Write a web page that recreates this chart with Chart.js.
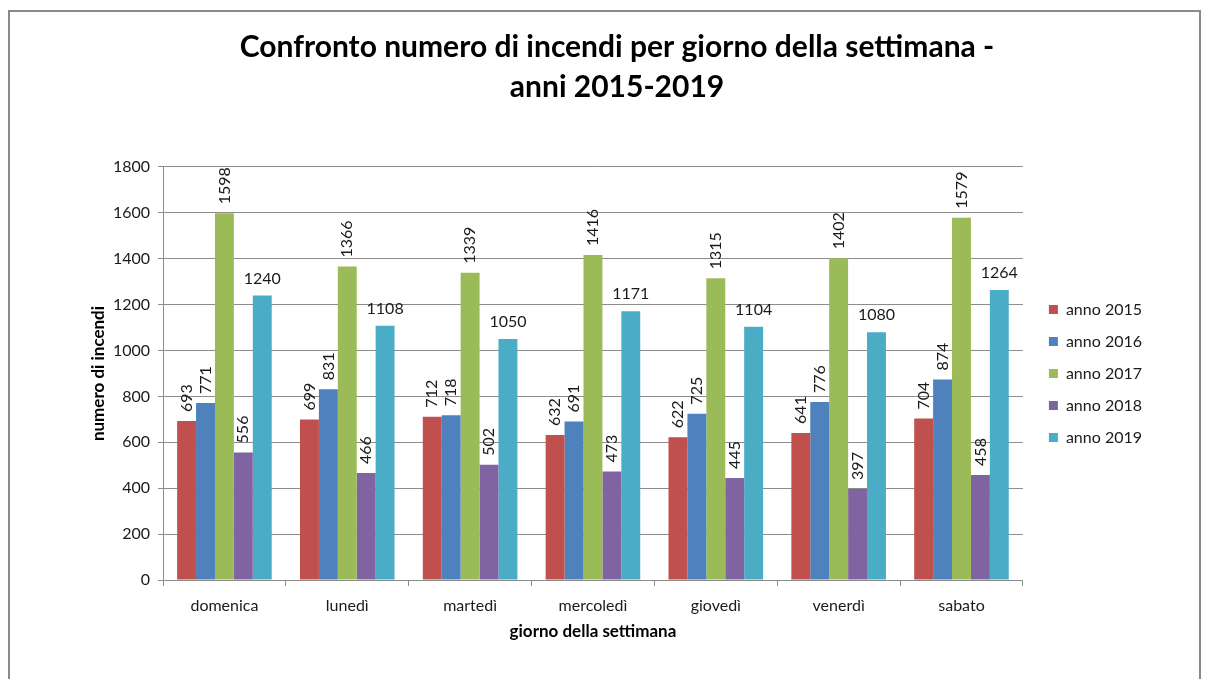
<!DOCTYPE html>
<html><head><meta charset="utf-8">
<script src="https://cdn.jsdelivr.net/npm/chart.js@4"></script>
<style>
html,body{margin:0;padding:0;background:#fff;}
#wrap{position:relative;width:1205px;height:679px;overflow:hidden;}
#frame{position:absolute;left:8px;top:10px;width:1193px;height:720px;border:2px solid #8a8a8a;box-sizing:border-box;}
canvas{position:absolute;left:0;top:0;}
</style></head>
<body><div id="wrap"><div id="frame"></div><canvas id="c" width="1205" height="679"></canvas></div>
<script>
const categories = ['domenica','lunedì','martedì','mercoledì','giovedì','venerdì','sabato'];
const seriesNames = ['anno 2015','anno 2016','anno 2017','anno 2018','anno 2019'];
const anno2015 = [693, 699, 712, 632, 622, 641, 704];
const anno2016 = [771, 831, 718, 691, 725, 776, 874];
const anno2017 = [1598, 1366, 1339, 1416, 1315, 1402, 1579];
const anno2018 = [556, 466, 502, 473, 445, 397, 458];
const anno2019 = [1240, 1108, 1050, 1171, 1104, 1080, 1264];
const colors = ['#C0504D','#4F81BD','#9BBB59','#8064A2','#4BACC6'];
const titleLines = ['Confronto numero di incendi per giorno della settimana -','anni 2015-2019'];

const FONT = 'Lato';
const allSeries = [anno2015, anno2016, anno2017, anno2018, anno2019];

const labelPlugin = {
  id: 'barLabels',
  afterDatasetsDraw(chart) {
    const ctx = chart.ctx;
    chart.data.datasets.forEach((ds, i) => {
      const meta = chart.getDatasetMeta(i);
      meta.data.forEach((bar, j) => {
        const v = ds.data[j];
        ctx.save();
        ctx.font = '16px ' + FONT;
        ctx.fillStyle = '#1a1a1a';
        if (i === 4) {
          ctx.textAlign = 'center';
          ctx.textBaseline = 'middle';
          ctx.fillText(String(v), bar.x, bar.y - 17);
        } else {
          ctx.translate(bar.x, bar.y - 9);
          ctx.rotate(-Math.PI / 2);
          ctx.textAlign = 'left';
          ctx.textBaseline = 'middle';
          ctx.fillText(String(v), 0, 0);
        }
        ctx.restore();
      });
    });
  }
};

new Chart(document.getElementById('c'), {
  type: 'bar',
  data: {
    labels: categories,
    datasets: allSeries.map((d, i) => ({
      label: seriesNames[i],
      data: d,
      backgroundColor: colors[i],
      borderWidth: 0,
      categoryPercentage: 0.77,
      barPercentage: 1.0
    }))
  },
  options: {
    responsive: false,
    animation: false,
    layout: { padding: { left: 82, right: 53, top: 0, bottom: 37 } },
    plugins: {
      title: {
        display: true,
        text: titleLines,
        color: '#000',
        font: { family: FONT, size: 30, weight: 'bold', lineHeight: 1.333 },
        padding: { top: 27, bottom: 60 }
      },
      legend: {
        position: 'right',
        fullSize: false,
        labels: {
          boxWidth: 9, boxHeight: 9,
          color: '#1a1a1a',
          font: { family: FONT, size: 16 },
          padding: 16
        }
      },
      tooltip: { enabled: false }
    },
    scales: {
      x: {
        grid: { display: true, drawOnChartArea: false, drawTicks: true, tickLength: 6, color: '#8c8c8c', offset: true },
        border: { color: '#8c8c8c' },
        ticks: { color: '#1a1a1a', font: { family: FONT, size: 16 }, padding: 10, maxRotation: 0 },
        title: { display: true, text: 'giorno della settimana', color: '#000', font: { family: FONT, size: 17, weight: 'bold' }, padding: { top: 4, bottom: 0 } },
        afterFit(s) { s.height = 62; }
      },
      y: {
        min: 0, max: 1800,
        ticks: { stepSize: 200, color: '#1a1a1a', font: { family: FONT, size: 16 }, padding: 8, callback: v => String(v) },
        grid: { color: '#8c8c8c', tickLength: 5 },
        border: { color: '#8c8c8c' },
        title: { display: true, text: 'numero di incendi', color: '#000', font: { family: FONT, size: 17, weight: 'bold' }, padding: { top: 6, bottom: 0 } },
        afterFit(s) { s.width = 81; }
      },
      gap: {
        type: 'linear',
        position: 'right',
        display: true,
        grid: { display: false, drawTicks: false },
        border: { display: false },
        ticks: { display: false },
        afterFit(s) { s.width = 10; }
      }
    }
  },
  plugins: [labelPlugin]
});
</script>
</body></html>
